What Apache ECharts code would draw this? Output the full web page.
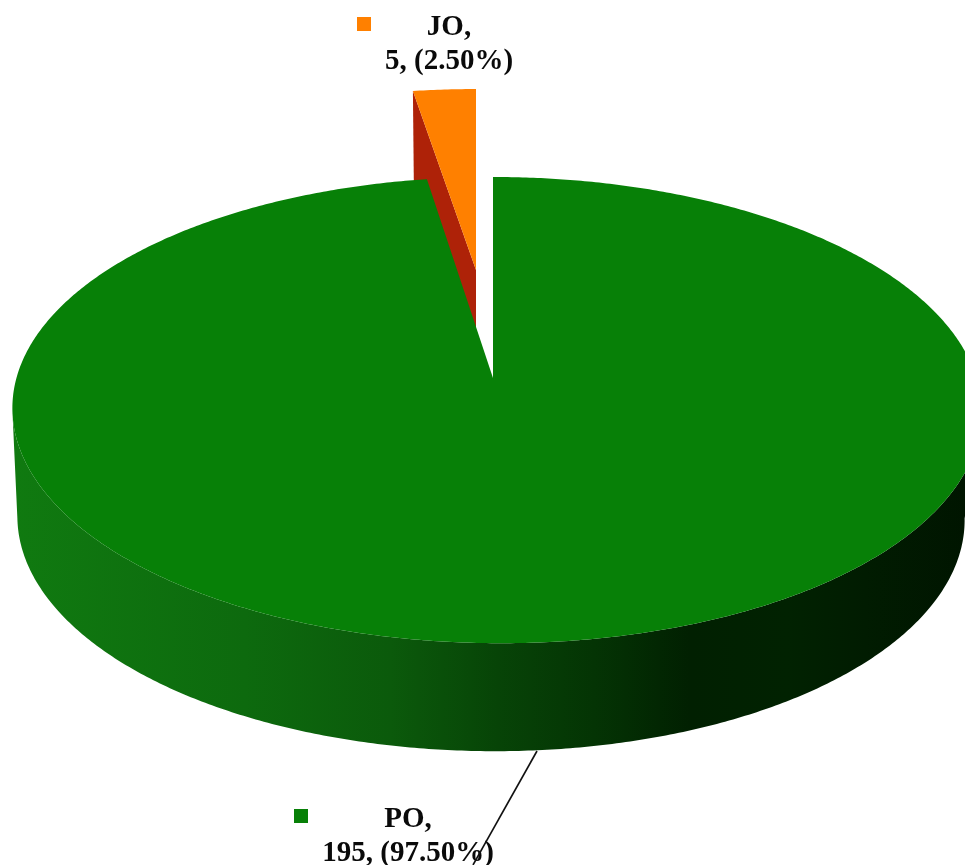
<!DOCTYPE html>
<html>
<head>
<meta charset="utf-8">
<title>PO / JO share</title>
<style>
  html, body { margin: 0; padding: 0; background: #fff; }
  #chart { width: 965px; height: 865px; overflow: hidden; }
</style>
<script src="https://cdn.jsdelivr.net/npm/echarts@6/dist/echarts.min.js"></script>
</head>
<body>
<div id="chart"></div>
<script>
// Slices run clockwise, JO ending at twelve o'clock and PO starting there.
const categories = ['JO', 'PO'];
const values = [5, 195];
const topColors = ['#ff8000', '#078007'];

// Perspective disc: the centre projects to (apexX, apexY).
const apexX = 493, apexY = 378;
const radiusX = 480, radiusY = 228.7, tilt = 0.1376, lean = 3.45;
// Rim of the base: the top rim moved down by the disc's thickness and slightly narrowed.
const depth = 108, baseCx = 491, topCx = 497, baseScale = 474 / 485;
// The exploded slice sits further back, so it is drawn a little smaller.
const explodedApex = [476, 270], explodedScale = [0.955, 0.9], explodedDepth = 100;
// Rim angles where the disc's outline is widest on screen.
const wallFrom = 98, wallTo = 262;

const total = values.reduce((a, b) => a + b, 0);

function rimPoint(deg) {
  const r = deg * Math.PI / 180, u = Math.sin(r), v = Math.cos(r), w = 1 + tilt * v;
  return [apexX + (radiusX * u + lean * (1 - v)) / w, apexY - radiusY * v / w];
}
function topArc(from, to) {
  const pts = [], n = Math.max(2, Math.ceil(Math.abs(to - from) * 2));
  for (let i = 0; i <= n; i++) pts.push(rimPoint(from + (to - from) * i / n));
  return pts;
}
function toBase(p) {
  return [baseCx + (p[0] - topCx) * baseScale, p[1] + depth];
}
function toExploded(p) {
  return [explodedApex[0] + (p[0] - apexX) * explodedScale[0],
          explodedApex[1] + (p[1] - apexY) * explodedScale[1]];
}
function sliceAngles(i) {
  let start = -360 * values[0] / total;
  for (let k = 0; k < i; k++) start += 360 * values[k] / total;
  return [start, start + 360 * values[i] / total];
}
function labelText(i) {
  return categories[i] + ',\n' + values[i] + ', (' + (100 * values[i] / total).toFixed(2) + '%)';
}
function poly(points, fill) {
  return { type: 'polygon', shape: { points: points }, style: { fill: fill, stroke: null } };
}
function annotation(i, tx, ty, mx, my) {
  return [
    { type: 'rect', shape: { x: mx, y: my, width: 14, height: 14 }, style: { fill: topColors[i] } },
    { type: 'text', style: {
        text: labelText(i), x: tx, y: ty, align: 'center', verticalAlign: 'top',
        fontFamily: '"Liberation Serif", serif', fontWeight: 'bold', fontSize: 29,
        lineHeight: 34, fill: '#0a0a0a' } }
  ];
}

function drawJO(i) {
  const a = sliceAngles(i), arc = topArc(a[0], a[1]).map(toExploded), left = arc[0];
  const face = [explodedApex, left, [left[0] + 1, left[1] + explodedDepth],
                [explodedApex[0], explodedApex[1] + explodedDepth]];
  return [poly(face, '#ae2208'), poly([explodedApex].concat(arc), topColors[i])]
    .concat(annotation(i, 449, 11, 357, 17));
}

function drawPO(i) {
  const a = sliceAngles(i);
  // Side wall: front of the top rim from its right end to its left end, then the base rim back.
  const front = topArc(wallFrom, wallTo);
  const wall = front.concat(front.slice().reverse().map(toBase));
  const shade = new echarts.graphic.LinearGradient(0, 0, 1, 0, [
    { offset: 0, color: '#107a10' },
    { offset: 0.24, color: '#0d6a0e' },
    { offset: 0.39, color: '#0b5a0b' },
    { offset: 0.5, color: '#074407' },
    { offset: 0.6, color: '#043404' },
    { offset: 0.7, color: '#012001' },
    { offset: 0.8, color: '#012201' },
    { offset: 0.88, color: '#011c01' },
    { offset: 1, color: '#001400' }
  ]);
  const leader = { type: 'line', shape: { x1: 537, y1: 751, x2: 473, y2: 865 },
                   style: { stroke: '#111', lineWidth: 1.6 } };
  return [poly(wall, shade), poly([[apexX, apexY]].concat(topArc(a[0], a[1])), topColors[i])]
    .concat(annotation(i, 408, 803, 294, 809), [leader]);
}

const chart = echarts.init(document.getElementById('chart'), null, { renderer: 'canvas' });
chart.setOption({
  backgroundColor: '#ffffff',
  animation: false,
  series: [{
    type: 'custom',
    coordinateSystem: 'none',
    silent: true,
    data: values.map((v, i) => ({ name: categories[i], value: v })),
    renderItem: function (params) {
      const i = params.dataIndex;
      return { type: 'group', children: categories[i] === 'JO' ? drawJO(i) : drawPO(i) };
    }
  }]
});
</script>
</body>
</html>
